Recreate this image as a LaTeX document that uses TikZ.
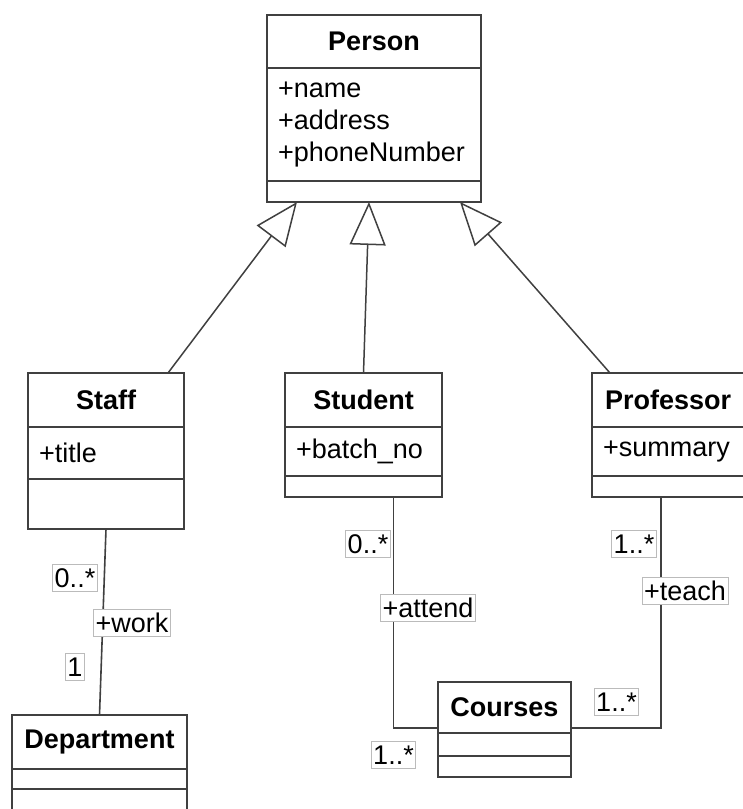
\documentclass[tikz,border=0pt]{standalone}
\usepackage{fontspec}
\setmainfont{Liberation Sans}
\usetikzlibrary{arrows.meta,calc}

\definecolor{umlline}{HTML}{404040}
\definecolor{labelframe}{HTML}{BBBBBB}
\newcommand{\umlfont}{\fontsize{27}{32}\selectfont}

\tikzset{
  box/.style={draw=umlline, line width=1.8pt, fill=white, anchor=north west,
    inner sep=0pt, outer sep=0pt, font=\umlfont},
  head/.style={box, font=\umlfont\bfseries},
  attrs/.style={box, align=left, inner xsep=11pt},
  gen/.style={draw=umlline, line width=1.5pt,
    -{Triangle[length=43pt, width=36pt, fill=white]}},
  assoc/.style={draw=umlline, line width=1.6pt},
  mult/.style={draw=labelframe, line width=0.8pt, fill=white, inner xsep=2pt,
    inner ysep=3.3pt, text height=20pt, text depth=0.5pt, font=\umlfont},
}

\begin{document}
\begin{tikzpicture}[x=1pt, y=-1pt]
\path[use as bounding box, fill=white] (0,0) rectangle (743,809);

% Person
\node[head, minimum width=214pt, minimum height=53pt] (personH) at (267,15) {Person};
\node[attrs, text width=192pt, minimum height=113pt] (personA) at (personH.south west)
  {+name\\+address\\+phoneNumber};
\node[box, minimum width=214pt, minimum height=21pt] (personO) at (personA.south west) {};

% Staff
\node[head, minimum width=156pt, minimum height=54pt] (staffH) at (28,373) {Staff};
\node[attrs, text width=134pt, minimum height=52pt] (staffA) at (staffH.south west) {+title};
\node[box, minimum width=156pt, minimum height=50pt] (staffO) at (staffA.south west) {};

% Student
\node[head, minimum width=157pt, minimum height=54pt] (studentH) at (285,373) {Student};
\node[attrs, text width=135pt, minimum height=49pt] (studentA) at (studentH.south west) {+batch\_no};
\node[box, minimum width=157pt, minimum height=21pt] (studentO) at (studentA.south west) {};

% Professor
\node[head, minimum width=160pt, minimum height=54pt, text width=134pt, align=left,
  inner xsep=13pt] (profH) at (592,373) {Professor};
\node[attrs, text width=138pt, minimum height=49pt] (profA) at (profH.south west) {+summary};
\node[box, minimum width=160pt, minimum height=21pt] (profO) at (profA.south west) {};

% Department
\node[head, minimum width=175pt, minimum height=54pt] (deptH) at (12,715) {Department};
\node[box, minimum width=175pt, minimum height=20pt] (deptA) at (deptH.south west) {};
\node[box, minimum width=175pt, minimum height=24pt] (deptO) at (deptA.south west) {};

% Courses
\node[head, minimum width=133pt, minimum height=51pt] (coursesH) at (438,682) {Courses};
\node[box, minimum width=133pt, minimum height=23pt] (coursesA) at (coursesH.south west) {};
\node[box, minimum width=133pt, minimum height=21pt] (coursesO) at (coursesA.south west) {};

% Generalizations
\draw[gen] ($(staffH.north east)+(-16,0)$) -- ($(personO.south west)+(30,0)$);
\draw[gen] (studentH.north) -- ($(personO.south)+(-5,0)$);
\draw[gen] ($(profH.north west)+(18,0)$) -- ($(personO.south east)+(-21,0)$);

% Associations
\draw[assoc] (staffO.south) -- (deptH.north);
\draw[assoc] ($(studentO.south)+(30,0)$) |- ($(coursesH.south west)+(0,-5)$);
\draw[assoc] ($(profO.south west)+(69,0)$) |- ($(coursesH.south east)+(0,-5)$);

% Role names and multiplicities
\node[mult] (mStaff) at (75,577.5) {0..*};
\node[mult] (rWork) at (132,622.5) {+work};
\node[mult] (mDept) at (75,667) {1};
\node[mult] (mStudent) at (368,543.5) {0..*};
\node[mult] (rAttend) at (428,607.5) {+attend};
\node[mult] (mCoursesL) at (393.5,754.5) {1..*};
\node[mult] (mProf) at (634,543.5) {1..*};
\node[mult] (rTeach) at (685,590.5) {+teach};
\node[mult] (mCoursesR) at (616.5,701.5) {1..*};
\end{tikzpicture}
\end{document}
